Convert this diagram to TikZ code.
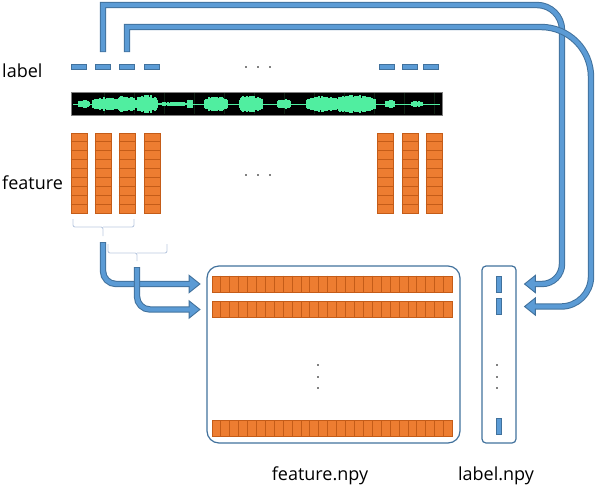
\documentclass[tikz,border=0pt]{standalone}
\usepackage{fontspec}
\setmainfont{Open Sans}
\usetikzlibrary{arrows.meta,calc}
\definecolor{lblue}{RGB}{91,155,213}
\definecolor{dblue}{RGB}{65,113,156}
\definecolor{forange}{RGB}{237,125,49}
\definecolor{dorange}{RGB}{196,92,24}
\definecolor{wgreen}{RGB}{80,238,160}
\definecolor{wgrid}{RGB}{14,34,20}
\definecolor{brace}{RGB}{188,202,224}
\begin{document}
\begin{tikzpicture}[x=1pt,y=-1pt,
  txt/.style={font=\fontsize{18}{20}\selectfont, inner sep=0pt},
  lbldash/.style={rectangle, fill=lblue, draw=dblue, line width=0.6pt, minimum width=15pt, minimum height=5pt, inner sep=0pt},
  lblbar/.style={lbldash, minimum width=5pt, minimum height=16pt},
  featcol/.style={rectangle, fill=forange, draw=dorange, line width=0.7pt, minimum width=16pt, minimum height=80pt, inner sep=0pt},
  featrow/.style={rectangle, fill=forange, draw=dorange, line width=0.7pt, minimum width=240pt, minimum height=16pt, inner sep=0pt},
  npybox/.style={rectangle, draw=dblue, line width=1.2pt, rounded corners=#1, inner sep=0pt},
  flow/.style={draw=dblue, line width=6.4pt,
    -{Triangle[length=12pt,width=19pt,line width=0.9pt,fill=lblue,color=dblue]},
    postaction={draw=lblue, line width=4.4pt, -, shorten >=6pt, shorten <=0.8pt}},
  bracket/.style={draw=brace, line width=0.9pt, rounded corners=2pt}]
\useasboundingbox (0,0) rectangle (596,488);

% texts
\node[txt, anchor=base west] (lbl) at (2,77) {label};
\node[txt, anchor=base west] (feat) at (2,189) {feature};
\node[txt, anchor=base] (featnpy) at (320,480) {feature.npy};
\node[txt, anchor=base] (lblnpy) at (496,480) {label.npy};

% label dashes
\foreach \n/\x in {d1/79,d2/103,d3/127,d4/152,d5/387,d6/410,d7/430.5}
  \node[lbldash] (\n) at (\x,67) {};
\foreach \x in {246,258,270} {
  \fill (\x,67) circle (0.9pt);
  \fill (\x,175) circle (0.9pt);
}

% waveform
\node[rectangle, fill=black, draw=gray, line width=0.8pt, minimum width=371pt, minimum height=23pt, inner sep=0pt] (wave) at (256.5,103.5) {};
\foreach \x in {104,134,...,434}
  \draw[wgrid, line width=0.3pt] (\x,93) -- (\x,114);
\draw[wgreen, line width=0.9pt] (73,104) -- (440,104);
\pgfmathsetseed{7}
\foreach \c/\w/\h in {84/5/4,105/12/7,125/10/8,147/10/9,175/17/2,190/2/5,216/11/8,251/11/9,284/6/5,322/15/8,355/20/9,390/4/4,417/5/3} {
  \foreach \i in {-\w,...,\w} {
    \pgfmathsetmacro\hh{\h*(0.7+0.3*rnd)*sqrt(sqrt(max(0,1-(\i/(\w+1))^2)))}
    \draw[wgreen, line width=1.2pt] (\c+\i,104-\hh) -- (\c+\i,104+\hh);
  }
}

% feature columns
\foreach \n/\x in {fc1/79,fc2/103,fc3/127,fc4/152,fc5/385.5,fc6/410,fc7/434} {
  \node[featcol] (\n) at (\x,173) {};
  \foreach \k in {1,...,8}
    \draw[dorange, line width=0.5pt] ($(\n.north west)!\k/9!(\n.south west)$) -- ($(\n.north east)!\k/9!(\n.south east)$);
}

% brackets
\draw[bracket] (73,219) |- (103,227) -- (103,236);
\draw[bracket] (103,227) -| (134,219);
\draw[bracket] (108,244) |- (137,253) -- (137,261);
\draw[bracket] (137,253) -| (167,244);

% output boxes
\node[npybox=12pt, minimum width=253pt, minimum height=177pt] (featbox) at (333.5,354.5) {};
\node[npybox=4pt, minimum width=34pt, minimum height=177pt] (lblbox) at (499,354.5) {};

\foreach \n/\y in {fr1/284,fr2/309.5,fr3/428.5} {
  \node[featrow] (\n) at (332,\y) {};
  \foreach \k in {1,...,26}
    \draw[dorange, line width=0.5pt] ($(\n.north west)!\k/27!(\n.north east)$) -- ($(\n.south west)!\k/27!(\n.south east)$);
}
\foreach \n/\y in {ld1/284,ld2/306.5,ld3/426}
  \node[lblbar] (\n) at (499,\y) {};
\foreach \y in {365,377,388} {
  \fill (318,\y) circle (0.9pt);
  \fill (497,\y) circle (0.9pt);
}

% arrows
\coordinate (b1) at (103,242);
\coordinate (b2) at (137,267);
\coordinate (a1) at ([yshift=12pt]d2.north);
\coordinate (a2) at ([yshift=12pt]d3.north);
\draw[flow, rounded corners=13pt] (b1) |- ([xshift=-11pt]fr1.west);
\draw[flow, rounded corners=13pt] (b2) |- ([xshift=-11pt]fr2.west);
\draw[flow] (a1) -- (103,5) [rounded corners=25pt] -- (562,5) [rounded corners=20pt] |- ([xshift=22pt]ld1.east);
\draw[flow] (a2) -- (127,27) [rounded corners=50pt] -- (591,27) [rounded corners=30pt] |- ([xshift=22pt]ld2.east);
\end{tikzpicture}
\end{document}
